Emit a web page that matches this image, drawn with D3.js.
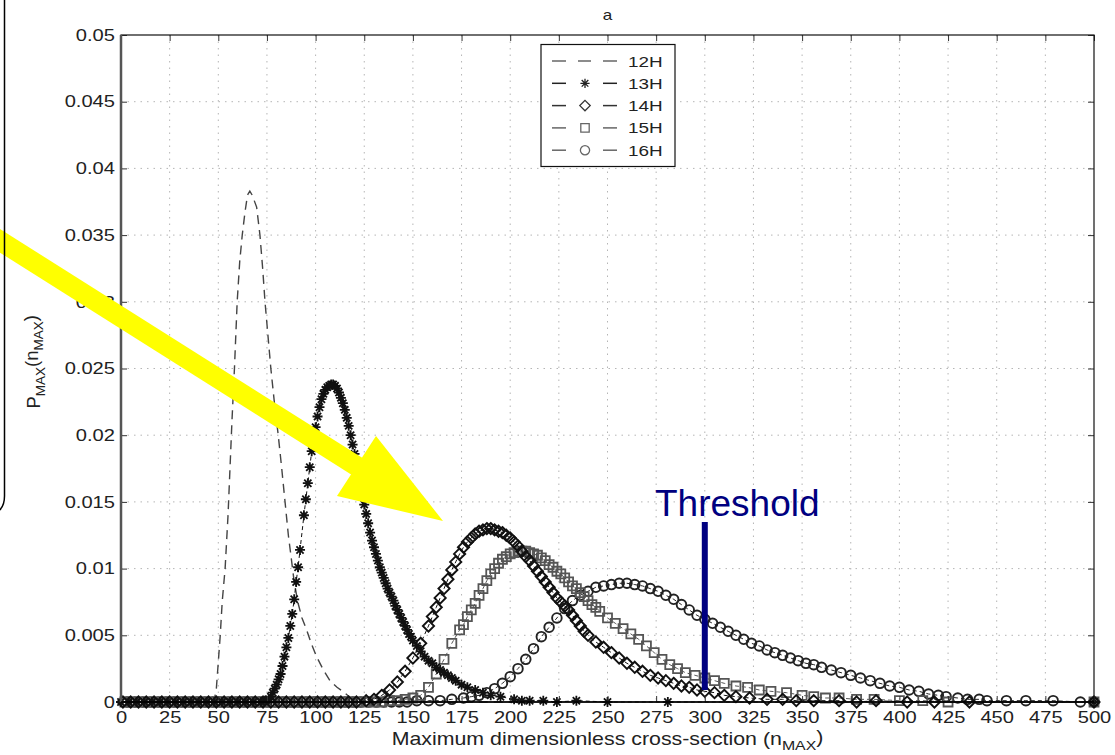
<!DOCTYPE html>
<html>
<head>
<meta charset="utf-8">
<script src="https://cdn.jsdelivr.net/npm/d3@7"></script>
<style>
  body { margin: 0; background: #fff; }
  svg text { font-family: "Liberation Sans", Arial, sans-serif; }
</style>
</head>
<body>
<svg id="chart" width="1115" height="755"></svg>
<script>
const xTicks = [0, 25, 50, 75, 100, 125, 150, 175, 200, 225, 250, 275, 300, 325, 350, 375, 400, 425, 450, 475, 500];
const xTickLabels = ['0', '25', '50', '75', '100', '125', '150', '175', '200', '225', '250', '275', '300', '325', '350', '375', '400', '425', '450', '475', '500'];
const yTicks = [0, 0.005, 0.01, 0.015, 0.02, 0.025, 0.03, 0.035, 0.04, 0.045, 0.05];
const yTickLabels = ['0', '0.005', '0.01', '0.015', '0.02', '0.025', '0.03', '0.035', '0.04', '0.045', '0.05'];
const seriesNames = ['12H', '13H', '14H', '15H', '16H'];
const thresholdN = 300;
const thresholdSpan = [0.0009, 0.0135];

// [n, P]
const p12 = [[0, 0], [46, 0], [48, 0.0002], [49, 0.001], [50, 0.003], [51, 0.005], [52, 0.0075], [53.5, 0.01],
  [55, 0.014], [56, 0.0175], [57, 0.021], [58.3, 0.025], [59.7, 0.03], [61, 0.033], [62.3, 0.035], [63.7, 0.0367],
  [65, 0.038], [66.2, 0.0383], [67.4, 0.038], [69.7, 0.0371], [71.4, 0.035], [72.8, 0.0325], [74, 0.03],
  [75.5, 0.0275], [77, 0.025], [79, 0.0222], [80.8, 0.02], [82.6, 0.0175], [84.3, 0.015], [86, 0.0125],
  [87.3, 0.011], [89, 0.009], [91, 0.0074], [93, 0.0063], [95.4, 0.0054], [98, 0.0043], [100.5, 0.0034],
  [104, 0.0024], [107.4, 0.0016], [111, 0.0011], [114, 0.0008], [118, 0.0003], [122, 0.0001], [130, 0], [200, 0]];

const p13 = [[0, 0], [4, 0], [8, 0], [12, 0], [16, 0], [20, 0], [24, 0], [28, 0], [32, 0], [36, 0], [40, 0], [44, 0],
  [48, 0], [52, 0], [56, 0], [60, 0], [64, 0], [68, 0], [72, 0], [74, 0.0001], [76, 0.0002], [77, 0.0004],
  [78, 0.0007], [79, 0.001], [80, 0.0013], [81, 0.0017], [82, 0.0021], [83, 0.0027], [84, 0.0034], [85, 0.0041],
  [86, 0.0048], [87, 0.0057], [88, 0.0066], [89, 0.0077], [90, 0.009], [91, 0.0101], [92, 0.0114], [94, 0.014],
  [95, 0.0152], [96, 0.0164], [97, 0.0176], [98, 0.0188], [99, 0.0198], [100, 0.0206], [101, 0.0214],
  [102, 0.0221], [103, 0.0227], [104, 0.0231], [105, 0.0234], [106, 0.0236], [107, 0.0237], [108, 0.0238],
  [109, 0.0238], [110, 0.0237], [111, 0.0235], [112, 0.0232], [113, 0.0228], [114, 0.0224], [115, 0.0219],
  [116, 0.0213], [117, 0.0207], [118, 0.02], [119, 0.0193], [120, 0.0186], [121, 0.0178], [122, 0.017],
  [123, 0.0162], [124, 0.0155], [125, 0.0148], [126, 0.0141], [127, 0.0134], [128, 0.0127], [129, 0.0121],
  [130, 0.0116], [131, 0.0111], [132, 0.0106], [133, 0.0101], [134, 0.0097], [135, 0.0093], [136, 0.0089],
  [137, 0.0085], [138, 0.0082], [139, 0.0079], [140, 0.0076], [141, 0.0072], [142, 0.0069], [143, 0.0066],
  [144, 0.0063], [145, 0.006], [146, 0.0057], [147, 0.0054], [148, 0.0051], [149, 0.0049], [150, 0.0046],
  [152, 0.0042], [154, 0.0038], [156, 0.0034], [158, 0.0031], [160, 0.0029], [162, 0.0026], [164, 0.0024],
  [166, 0.0022], [168, 0.002], [170, 0.0018], [172, 0.0016], [175, 0.0013], [178, 0.0011], [182, 0.0009],
  [186, 0.0007], [190, 0.0005], [195, 0.0004], [202, 0.0002], [206, 0.0001], [210, 0.0001], [217, 0.0001],
  [224, 0], [234, 0.0001], [250, 0], [281, 0], [500, 0]];

const p14 = [[1, 0], [5, 0], [9, 0], [13, 0], [17, 0], [21, 0], [25, 0], [29, 0], [33, 0], [37, 0], [41, 0], [45, 0],
  [49, 0], [53, 0], [57, 0], [61, 0], [65, 0], [69, 0], [73, 0], [77, 0], [81, 0], [85, 0], [89, 0], [93, 0],
  [97, 0], [101, 0], [105, 0], [109, 0], [113, 0], [117, 0], [121, 0], [126, 0.0001], [130, 0.0002],
  [134, 0.0005], [138, 0.0009], [142, 0.0015], [146, 0.0023], [150, 0.0033], [154, 0.0044], [158, 0.0057],
  [160, 0.0064], [162, 0.0071], [164, 0.0078], [166, 0.0085], [168, 0.0092], [170, 0.0099], [172, 0.0105],
  [174, 0.0111], [176, 0.0116], [178, 0.012], [180, 0.0123], [182, 0.0126], [184, 0.0128], [186, 0.0129],
  [188, 0.013], [190, 0.013], [192, 0.0129], [194, 0.0128], [196, 0.0127], [198, 0.0125], [200, 0.0123],
  [202, 0.012], [204, 0.0117], [206, 0.0113], [208, 0.0109], [210, 0.0106], [212, 0.0102], [214, 0.0098],
  [216, 0.0094], [218, 0.009], [220, 0.0086], [222, 0.0082], [224, 0.0078], [226, 0.0075], [228, 0.0072],
  [230, 0.0069], [232, 0.0065], [234, 0.0061], [236, 0.0057], [238, 0.0053], [240, 0.005], [244, 0.0045],
  [248, 0.0041], [252, 0.0037], [256, 0.0033], [260, 0.0029], [264, 0.0026], [268, 0.0023], [272, 0.002],
  [276, 0.0018], [280, 0.0016], [284, 0.0014], [288, 0.0012], [292, 0.0011], [296, 0.0009], [300, 0.0008],
  [305, 0.0007], [310, 0.0005], [316, 0.0004], [323, 0.0003], [332, 0.0002], [340, 0.0002], [347, 0.0001],
  [356, 0.0001], [369, 0.0001], [378, 0], [388, 0.0001], [404, 0], [418, 0], [436, 0], [500, 0]];

const p15 = [[2, 0], [6, 0], [10, 0], [14, 0], [18, 0], [22, 0], [26, 0], [30, 0], [34, 0], [38, 0], [42, 0], [46, 0],
  [50, 0], [54, 0], [58, 0], [62, 0], [66, 0], [70, 0], [74, 0], [78, 0], [82, 0], [86, 0], [90, 0], [94, 0],
  [98, 0], [102, 0], [106, 0], [110, 0], [114, 0], [118, 0], [122, 0], [126, 0], [130, 0], [134, 0],
  [138, 0.0001], [142, 0.0001], [146, 0.0002], [150, 0.0003], [154, 0.0005], [158, 0.0011], [162, 0.0021],
  [166, 0.0032], [170, 0.0044], [174, 0.0054], [176, 0.0058], [178, 0.0064], [180, 0.0069], [182, 0.0074],
  [184, 0.008], [186, 0.0085], [188, 0.0091], [190, 0.0096], [192, 0.01], [194, 0.0104], [196, 0.0107],
  [198, 0.0109], [200, 0.0111], [202, 0.0112], [204, 0.0113], [206, 0.0113], [208, 0.0113], [210, 0.0112],
  [212, 0.0111], [214, 0.011], [216, 0.0108], [218, 0.0106], [220, 0.0103], [222, 0.0101], [224, 0.0098],
  [226, 0.0096], [228, 0.0093], [230, 0.009], [232, 0.0087], [234, 0.0085], [236, 0.0082], [238, 0.0079],
  [240, 0.0076], [242, 0.0073], [244, 0.0071], [246, 0.0068], [250, 0.0063], [254, 0.0059], [258, 0.0055],
  [262, 0.0051], [266, 0.0047], [270, 0.0042], [274, 0.0037], [278, 0.0032], [282, 0.0028], [286, 0.0025],
  [290, 0.0022], [295, 0.002], [300, 0.0018], [305, 0.0016], [310, 0.0014], [316, 0.0012], [322, 0.0011],
  [328, 0.0009], [334, 0.0008], [342, 0.0007], [350, 0.0005], [356, 0.0004], [362, 0.0003], [369, 0.0003],
  [378, 0.0002], [387, 0.0002], [400, 0.0001], [412, 0.0001], [425, 0], [500, 0]];

const p16 = [[3, 0], [7, 0], [11, 0], [15, 0], [19, 0], [23, 0], [27, 0], [31, 0], [35, 0], [39, 0], [43, 0], [47, 0],
  [51, 0], [55, 0], [59, 0], [63, 0], [67, 0], [71, 0], [75, 0], [79, 0], [83, 0], [87, 0], [91, 0], [95, 0],
  [99, 0], [103, 0], [107, 0], [111, 0], [115, 0], [119, 0], [123, 0], [127, 0], [131, 0], [135, 0], [139, 0],
  [143, 0], [147, 0], [152, 0.0001], [158, 0.0001], [164, 0.0001], [170, 0.0002], [176, 0.0003], [180, 0.0004],
  [184, 0.0005], [188, 0.0007], [192, 0.001], [196, 0.0014], [200, 0.0019], [204, 0.0025], [208, 0.0032],
  [212, 0.004], [216, 0.0049], [220, 0.0056], [224, 0.0063], [228, 0.007], [232, 0.0076], [236, 0.008],
  [240, 0.0083], [244, 0.0086], [248, 0.0087], [252, 0.0088], [256, 0.0089], [260, 0.0089], [264, 0.0088],
  [268, 0.0087], [272, 0.0085], [276, 0.0083], [280, 0.008], [284, 0.0077], [288, 0.0073], [292, 0.0069],
  [296, 0.0065], [300, 0.0062], [304, 0.0059], [308, 0.0056], [312, 0.0053], [316, 0.005], [320, 0.0047],
  [324, 0.0044], [328, 0.0042], [332, 0.0039], [336, 0.0037], [340, 0.0035], [344, 0.0033], [348, 0.0031],
  [352, 0.0029], [356, 0.0028], [360, 0.0026], [365, 0.0024], [370, 0.0022], [375, 0.002], [380, 0.0018],
  [385, 0.0016], [390, 0.0014], [395, 0.0012], [400, 0.0011], [405, 0.0009], [410, 0.0008], [415, 0.0006],
  [420, 0.0005], [424, 0.0004], [430, 0.0003], [435, 0.0002], [441, 0.0002], [445, 0.0001], [455, 0.0001],
  [465, 0.0001], [479, 0.0001], [493, 0], [500, 0]];

const MARKERS = {
  asterisk: (s) => {
    const k = s * 0.72;
    return `M0,${-s}V${s}M${-s},0H${s}M${-k},${-k}L${k},${k}M${-k},${k}L${k},${-k}`;
  },
  diamond: (s) => `M0,${-s}L${s},0L0,${s}L${-s},0Z`,
  square: (s) => `M${-s},${-s}H${s}V${s}H${-s}Z`,
  circle: (s) => `M${s},0A${s},${s} 0 1,1 ${-s},0A${s},${s} 0 1,1 ${s},0`,
};

const main = () => {
  const svg = d3.select('#chart');
  const SX = 1.22; // the scanned figure's glyphs are wider than tall

  const x = d3.scaleLinear().domain([0, 500]).range([121, 1094]);
  const y = d3.scaleLinear().domain([0, 0.05]).range([702, 35]);

  const series = [
    { name: '16H', data: p16, marker: 'circle', size: 4.8, color: '#222', sw: 1.9 },
    { name: '15H', data: p15, marker: 'square', size: 4.5, color: '#555', sw: 1.8 },
    { name: '14H', data: p14, marker: 'diamond', size: 5.6, color: '#111', sw: 1.9 },
    { name: '13H', data: p13, marker: 'asterisk', size: 5, color: '#111', sw: 1.8 },
  ];

  // grid
  const grid = svg.append('g').attr('stroke', '#b5b5b5').attr('stroke-width', 1).attr('stroke-dasharray', '1.5,5');
  xTicks.slice(1, -1).forEach((t) => {
    grid.append('line').attr('x1', x(t)).attr('x2', x(t)).attr('y1', y(0.05)).attr('y2', y(0));
  });
  yTicks.slice(1, -1).forEach((t) => {
    grid.append('line').attr('x1', x(0)).attr('x2', x(500)).attr('y1', y(t)).attr('y2', y(t));
  });

  // 12H: dashed line only
  const line = d3.line().x((d) => x(d[0])).y((d) => y(d[1]));
  svg.append('path').datum(p12).attr('d', line)
    .attr('fill', 'none').attr('stroke', '#444').attr('stroke-width', 1.4).attr('stroke-dasharray', '9,6');

  series.forEach((s) => {
    const g = svg.append('g');
    g.append('path').datum(s.data).attr('d', line)
      .attr('fill', 'none').attr('stroke', s.color).attr('stroke-width', 1).attr('stroke-dasharray', '4,3');
    g.selectAll('path.mk').data(s.data).enter().append('path')
      .attr('class', 'mk')
      .attr('d', MARKERS[s.marker](s.size))
      .attr('transform', (d) => `translate(${x(d[0])},${y(d[1])})`)
      .attr('fill', 'none').attr('stroke', s.color).attr('stroke-width', s.sw);
  });

  // axes
  const fontSize = 16.5;
  const bottom = svg.append('g').attr('transform', `translate(0,${y(0)})`)
    .call(d3.axisBottom(x).tickValues(xTicks).tickFormat((d, i) => xTickLabels[i]).tickSize(-6).tickPadding(9));
  const left = svg.append('g').attr('transform', `translate(${x(0)},0)`)
    .call(d3.axisLeft(y).tickValues(yTicks).tickFormat((d, i) => yTickLabels[i]).tickSize(-6).tickPadding(6));
  svg.append('g').attr('transform', `translate(0,${y(0.05)})`)
    .call(d3.axisTop(x).tickValues(xTicks).tickFormat('').tickSize(-6));
  svg.append('g').attr('transform', `translate(${x(500)},0)`)
    .call(d3.axisRight(y).tickValues(yTicks).tickFormat('').tickSize(-6));

  svg.selectAll('.domain').remove();
  svg.selectAll('.tick line').attr('stroke', '#333');
  svg.selectAll('.tick text').attr('fill', '#222').style('font-size', `${fontSize}px`)
    .style('font-family', '"Liberation Sans", Arial, sans-serif');
  bottom.selectAll('.tick text').attr('transform', `scale(${SX},1)`);
  left.selectAll('.tick text').attr('x', -6 / SX).attr('transform', `scale(${SX},1)`);

  // frame
  svg.append('rect').attr('x', x(0)).attr('y', y(0.05)).attr('width', x(500) - x(0)).attr('height', y(0) - y(0.05))
    .attr('fill', 'none').attr('stroke', '#111').attr('stroke-width', 1.2);
  svg.append('line').attr('x1', x(0)).attr('x2', x(0)).attr('y1', y(0.05)).attr('y2', y(0))
    .attr('stroke', '#555').attr('stroke-width', 2.5);
  svg.append('line').attr('x1', x(0)).attr('x2', x(500)).attr('y1', y(0)).attr('y2', y(0))
    .attr('stroke', '#000').attr('stroke-width', 1.5);

  // title and labels
  svg.append('text').attr('transform', `translate(${(x(0) + x(500)) / 2},20) scale(${SX},1)`)
    .attr('text-anchor', 'middle').style('font-size', '14px').attr('fill', '#222').text('a');

  const xl = svg.append('text').attr('transform', `translate(${(x(0) + x(500)) / 2},745) scale(${SX},1)`)
    .attr('text-anchor', 'middle').style('font-size', '17.5px').attr('fill', '#222');
  xl.append('tspan').text('Maximum dimensionless cross-section (n');
  xl.append('tspan').attr('dy', '0.35em').style('font-size', '13px').text('MAX');
  xl.append('tspan').attr('dy', '-0.35em').text(')');

  const yl = svg.append('text').attr('transform', `translate(40,${y(0.0255)}) rotate(-90)`)
    .attr('text-anchor', 'middle').style('font-size', '18.5px').attr('fill', '#222');
  yl.append('tspan').text('P');
  yl.append('tspan').attr('dy', '0.35em').style('font-size', '13.5px').text('MAX');
  yl.append('tspan').attr('dy', '-0.35em').text('(n');
  yl.append('tspan').attr('dy', '0.35em').style('font-size', '13.5px').text('MAX');
  yl.append('tspan').attr('dy', '-0.35em').text(')');

  // legend
  const lg = svg.append('g');
  lg.append('rect').attr('x', 541).attr('y', 44.5).attr('width', 134).attr('height', 122)
    .attr('fill', '#fff').attr('stroke', '#111').attr('stroke-width', 1.2);
  const legendStyles = [
    { marker: null, color: '#666' },
    { marker: 'asterisk', size: 4.6, color: '#222' },
    { marker: 'diamond', size: 5.2, color: '#333' },
    { marker: 'square', size: 4.2, color: '#666' },
    { marker: 'circle', size: 4.6, color: '#666' },
  ];
  seriesNames.forEach((name, i) => {
    const ly = 61 + i * 22.3;
    const st = legendStyles[i];
    const row = lg.append('g');
    const segs = st.marker ? [[552, 566], [603, 617]] : [[552, 566], [578, 591], [603, 617]];
    segs.forEach(([a, b]) => {
      row.append('line').attr('x1', a).attr('x2', b).attr('y1', ly).attr('y2', ly)
        .attr('stroke', st.color).attr('stroke-width', 1.5);
    });
    if (st.marker) {
      row.append('path').attr('d', MARKERS[st.marker](st.size)).attr('transform', `translate(585,${ly})`)
        .attr('fill', 'none').attr('stroke', st.color).attr('stroke-width', 1.3);
    }
    row.append('text').attr('transform', `translate(628,${ly + 5.5}) scale(${SX},1)`)
      .style('font-size', '15.5px').attr('fill', '#222').text(name);
  });

  // threshold annotation
  svg.append('line').attr('x1', x(thresholdN)).attr('x2', x(thresholdN))
    .attr('y1', y(thresholdSpan[1])).attr('y2', y(thresholdSpan[0]))
    .attr('stroke', '#000080').attr('stroke-width', 6);
  svg.append('text').attr('x', 655).attr('y', 516).style('font-size', '37px').attr('fill', '#000080').text('Threshold');

  // yellow arrow overlay
  svg.append('line').attr('x1', -10).attr('y1', 234.5).attr('x2', 362).attr('y2', 469.5)
    .attr('stroke', '#ffff00').attr('stroke-width', 20);
  svg.append('path').attr('d', 'M376,436L337,496L443,521Z').attr('fill', '#ffff00');

  // edge of the slide's rounded box
  svg.append('path').attr('d', 'M4.5,-5V496Q4.5,510 -6,513').attr('fill', 'none')
    .attr('stroke', '#000').attr('stroke-width', 1.5);
};
main();
</script>
</body>
</html>
